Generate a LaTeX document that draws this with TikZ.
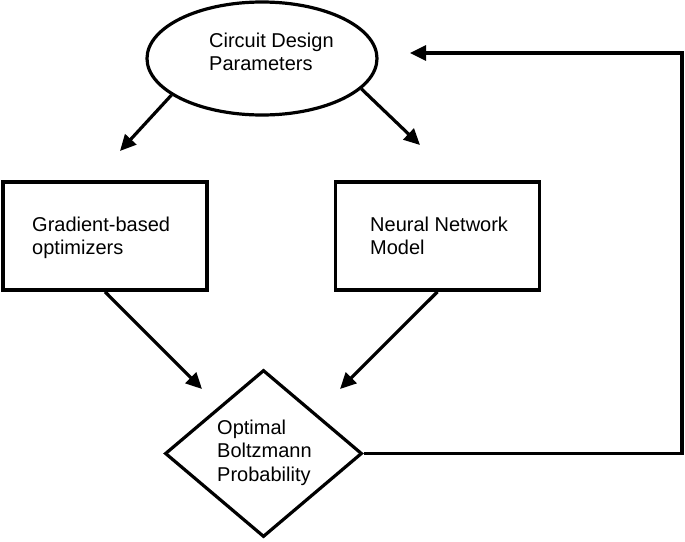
\documentclass[tikz,border=0pt]{standalone}
\usepackage{fontspec}
\setmainfont{Liberation Sans}
\usetikzlibrary{arrows.meta,shapes.geometric}
\tikzset{
  shapeline/.style={draw=black, line width=3.2pt, fill=white, inner sep=0pt},
  ellbox/.style={shapeline, ellipse, minimum width=230pt, minimum height=113pt},
  rectbox/.style={shapeline, line width=3.5pt, rectangle, minimum width=204pt, minimum height=108pt},
  diabox/.style={shapeline, diamond, minimum width=197pt, minimum height=167pt},
  lbl/.style={anchor=north west, inner sep=0pt, align=left, font=\fontsize{20}{23.5}\selectfont},
  arr/.style={draw=black, line width=3.2pt, -{Triangle[length=16pt,width=15pt]}},
  conn/.style={draw=black, line width=3.2pt}
}
\begin{document}
\begin{tikzpicture}[x=1pt,y=-1pt]
\useasboundingbox (0,0) rectangle (685,541);
% shapes
\node[ellbox] (cdp) at (262,58.5) {};
\node[rectbox] (grad) at (105,236) {};
\node[rectbox] (nn) at (437.5,236) {};
\node[diabox] (opt) at (263.5,453.5) {};
% texts
\node[lbl] (cdpt) at (209,32.5) {Circuit Design\\Parameters};
\node[lbl] (gradt) at (32,216.5) {Gradient-based\\optimizers};
\node[lbl] (nnt) at (370,216.5) {Neural Network\\Model};
\node[lbl] (optt) at (217,419.5) {Optimal\\Boltzmann\\Probability};
% arrow tips / bends
\coordinate (t1) at (120,151);
\coordinate (t2) at (420,145);
\coordinate (t3) at (202,389);
\coordinate (t4) at (340,389);
\coordinate (c1) at (682,453.5);
\coordinate (c2) at (682,53);
\coordinate (t5) at (410,53);
% connectors
\draw[arr] (cdp.202) -- (t1);
\draw[arr] (cdp.343) -- (t2);
\draw[arr] (grad.south) -- (t3);
\draw[arr] (nn.south) -- (t4);
\draw[arr, line join=miter] (opt.east) -- (c1) -- (c2) -- (t5);
\end{tikzpicture}
\end{document}
